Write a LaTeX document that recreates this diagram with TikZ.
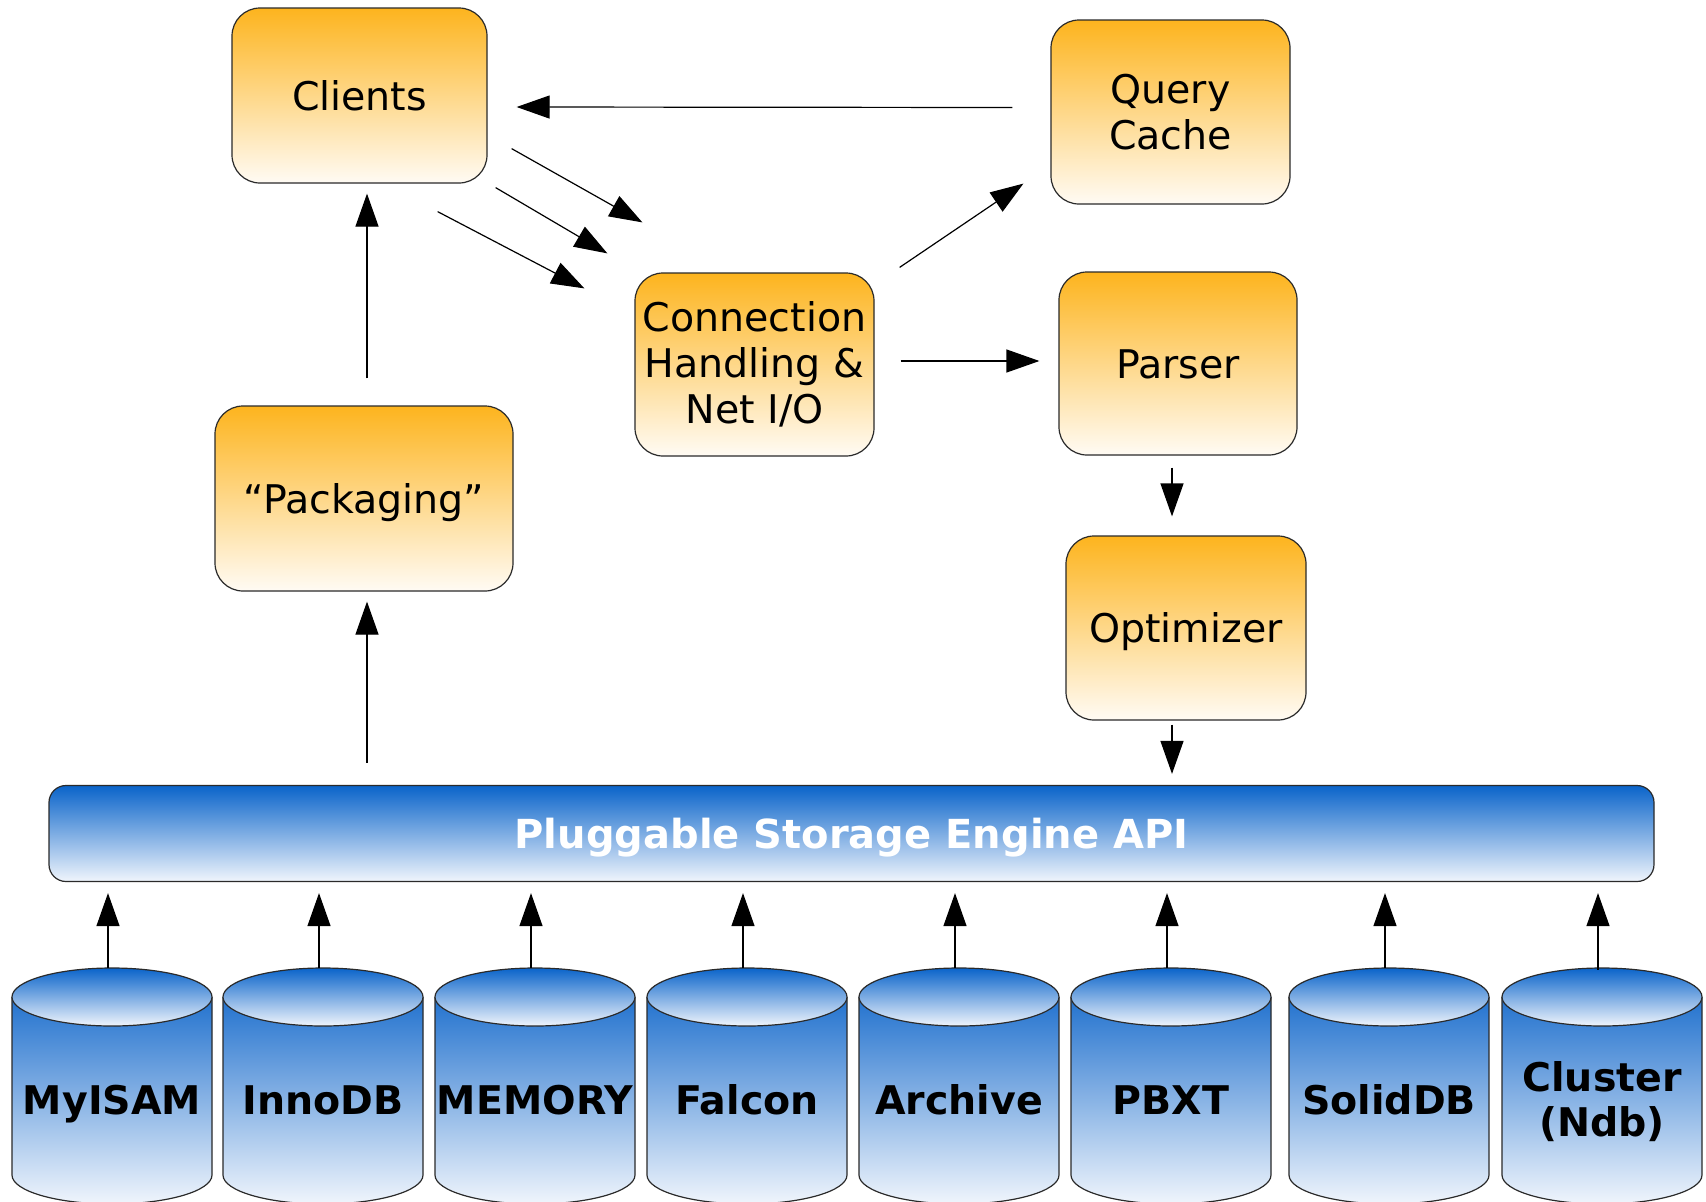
\documentclass[tikz,border=0pt]{standalone}
\usepackage{fontspec}
\setmainfont{DejaVu Sans}
\usetikzlibrary{arrows.meta,calc}
\definecolor{orTop}{HTML}{FDB41E}
\definecolor{orBot}{HTML}{FFFBF4}
\definecolor{blTop}{HTML}{0A64CA}
\definecolor{blBot}{HTML}{F0F5FC}
\definecolor{cyBodyTop}{HTML}{2272CE}
\definecolor{cyBodyBot}{HTML}{F0F5FC}
\definecolor{edgecol}{HTML}{2A2A2A}
\newcommand\dbcylinder[4][]{%
  \shade[top color=cyBodyTop, bottom color=cyBodyBot]
    (#3-100,997) -- (#3-100,1175)
    arc[start angle=180,end angle=0,x radius=100,y radius=29]
    -- (#3+100,997)
    arc[start angle=0,end angle=180,x radius=100,y radius=29] -- cycle;
  \draw[draw=edgecol,line width=1.2pt]
    (#3-100,997) -- (#3-100,1175)
    arc[start angle=180,end angle=0,x radius=100,y radius=29]
    -- (#3+100,997);
  \shadedraw[top color=blTop, bottom color=blBot, draw=edgecol, line width=1.2pt]
    (#3,997) ellipse [x radius=100, y radius=29];
  \node[cyllabel, minimum width=200, minimum height=264, #1] (#2) at (#3,1100) {#4};
  \draw[arr] ($(#2.north)+(-4,0)$) -- ($(#2.north |- api.south)+(-4,11)$);
}
\begin{document}
\begin{tikzpicture}[x=1pt,y=-1pt,
  box/.style={draw=edgecol, line width=1.2pt, rounded corners=28pt,
    top color=orTop, bottom color=orBot, align=center,
    font=\fontsize{39.5}{46}\selectfont, inner sep=0pt},
  oneline/.style={text height=29pt, text depth=0pt},
  arr/.style={line width=1.2pt, -{Triangle[length=33pt,width=23pt]}},
  cyllabel/.style={font=\bfseries\fontsize{39.5}{45}\selectfont, align=center, inner sep=0pt}
]
\useasboundingbox (0,0) rectangle (1706,1202);
\fill[white] (0,0) rectangle (1706,1202);

\node[box, oneline, minimum width=255, minimum height=175] (clients) at (359.5,95.5) {Clients};
\node[box, minimum width=239, minimum height=184] (qcache) at (1170.5,112) {Query\\Cache};
\node[box, minimum width=239, minimum height=183] (conn) at (754.5,364.5) {Connection\\Handling \&\\Net I/O};
\node[box, oneline, minimum width=238, minimum height=183] (parser) at (1178,363.5) {Parser};
\node[box, oneline, minimum width=298, minimum height=185] (pack) at (364,498.5) {“Packaging”};
\node[box, oneline, minimum width=240, minimum height=184] (optim) at (1186,628) {Optimizer};
\node[draw=edgecol, line width=1.2pt, rounded corners=17pt, top color=blTop, bottom color=blBot,
  minimum width=1605, minimum height=96, inner sep=0pt, oneline,
  font=\bfseries\fontsize{40}{46}\selectfont, text=white] (api) at (851.5,833.5) {Pluggable Storage Engine API};

% connectors
\draw[arr] ($(qcache.west)+(-38,-4.5)$) -- ($(clients.east)+(29,11.5)$);
\draw[arr] ($(clients.south east)+(24,-35)$) -- ($(conn.north west)+(8,-50)$);
\draw[arr] ($(clients.south east)+(8,4)$) -- ($(conn.north west)+(-27,-19)$);
\draw[arr] ($(clients.south east)+(-50,28)$) -- ($(conn.north west)+(-50,16)$);
\draw[arr] ($(conn.north east)+(25,-5)$) -- ($(qcache.south west)+(-27,-21)$);
\draw[arr] ($(conn.east)+(26,-3.5)$) -- ($(parser.west)+(-19,-2.5)$);
\draw[arr] ($(parser.south)+(-6,12)$) -- ($(optim.north)+(-14,-19)$);
\draw[arr] ($(optim.south)+(-14,4)$) -- ($(optim.south |- api.north)+(-14,-11)$);
\draw[arr] ($(pack.south |- api.north)+(3,-22)$) -- ($(pack.south)+(3,10)$);
\draw[arr] ($(pack.north)+(3,-27)$) -- ($(pack.north |- clients.south)+(3,10)$);

% storage engines
\dbcylinder[oneline]{myisam}{112}{MyISAM}
\dbcylinder[oneline]{innodb}{323}{InnoDB}
\dbcylinder[oneline]{memory}{535}{MEMORY}
\dbcylinder[oneline]{falcon}{747}{Falcon}
\dbcylinder[oneline]{archive}{959}{Archive}
\dbcylinder[oneline]{pbxt}{1171}{PBXT}
\dbcylinder[oneline]{soliddb}{1389}{SolidDB}
\dbcylinder[yshift=-2]{cluster}{1602}{Cluster\\(Ndb)}
\end{tikzpicture}
\end{document}
